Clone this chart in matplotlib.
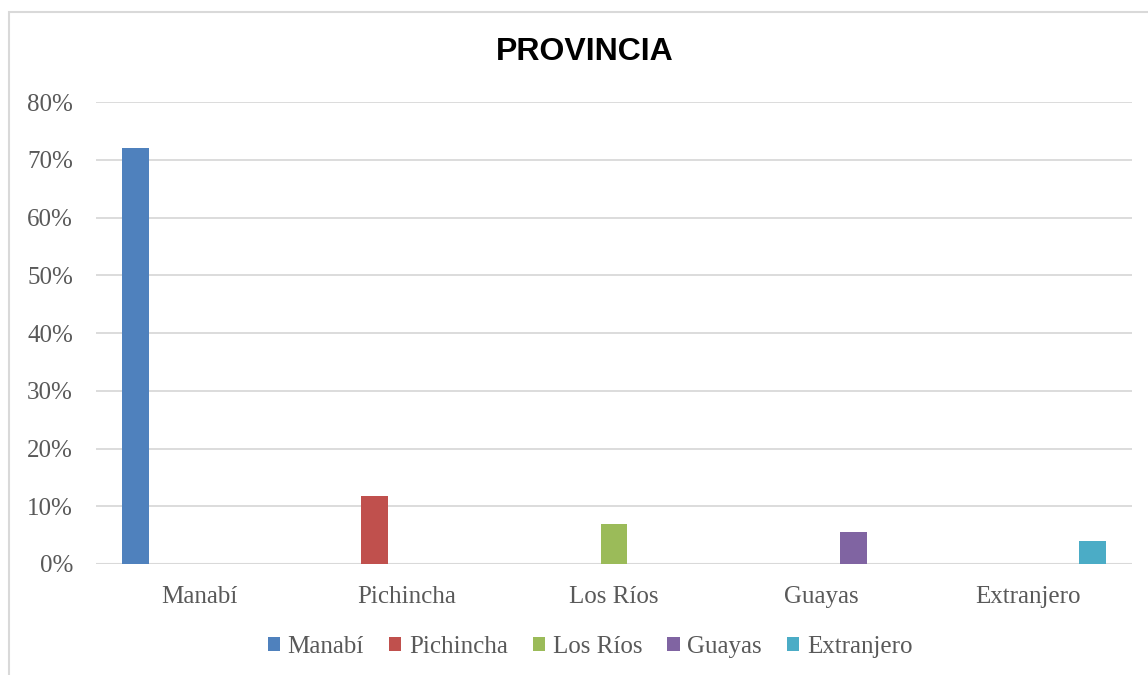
import matplotlib
matplotlib.use("Agg")
import matplotlib.pyplot as plt
from matplotlib.patches import Rectangle, Patch
from matplotlib.ticker import PercentFormatter
import numpy as np

categories = ["Manabí", "Pichincha", "Los Ríos", "Guayas", "Extranjero"]
series = ["Manabí", "Pichincha", "Los Ríos", "Guayas", "Extranjero"]
values = [72, 11.8, 6.9, 5.5, 4.0]   # percent, one per category / series
colors = ["#4F81BD", "#C0504D", "#9BBB59", "#8064A2", "#4BACC6"]
yticks = [0, 10, 20, 30, 40, 50, 60, 70, 80]

W, H = 1148, 675
fig = plt.figure(figsize=(W / 100, H / 100), dpi=100)
fig.patch.set_facecolor("white")

serif = ["Liberation Serif", "DejaVu Serif"]
txtc = "#595959"

# chart border
fig.add_artist(Rectangle((9 / W, -0.05), 1.1, 1 - 12 / H + 0.05,
                         transform=fig.transFigure, fill=False,
                         edgecolor="#D9D9D9", linewidth=1.5))

ax = fig.add_axes([96 / W, 1 - 564 / H, (1132 - 96) / W, (564 - 102) / H])
x = np.arange(len(categories))
slot = 0.154
bw = 0.13
n = len(series)
for i, s in enumerate(series):
    off = (i - (n - 1) / 2) * slot
    ax.bar([x[i] + off], [values[i]], width=bw, color=colors[i], label=s, zorder=3)

ax.set_xlim(-0.5, len(categories) - 0.5)
ax.set_ylim(0, 80)
ax.set_yticks(yticks)
ax.yaxis.set_major_formatter(PercentFormatter(decimals=0))
ax.set_xticks(x)
ax.set_xticklabels(categories)
for sp in ax.spines.values():
    sp.set_visible(False)
ax.grid(axis="y", color="#D9D9D9", linewidth=1.3, zorder=0)
ax.tick_params(axis="both", length=0, labelsize=18, labelcolor=txtc)
ax.tick_params(axis="x", pad=16)
ax.tick_params(axis="y", pad=16.5)
for lbl in ax.get_xticklabels() + ax.get_yticklabels():
    lbl.set_family(serif)
ax.axhline(0, color="#D9D9D9", linewidth=1.5, zorder=2)

fig.text(585 / W, 1 - 52 / H, "PROVINCIA", ha="center", va="center",
         fontsize=23, fontweight="bold", family=["Liberation Sans", "DejaVu Sans"],
         color="black")

handles = [Patch(facecolor=c, label=s) for c, s in zip(colors, series)]
leg = fig.legend(handles=handles, loc="center", bbox_to_anchor=(590 / W, 1 - 647 / H),
                 ncol=5, frameon=False, handlelength=0.5, handleheight=0.5,
                 handletextpad=0.3, columnspacing=1.0,
                 prop={"family": serif, "size": 18})
for t in leg.get_texts():
    t.set_color(txtc)

fig.savefig("out.png", dpi=100, facecolor="white")
